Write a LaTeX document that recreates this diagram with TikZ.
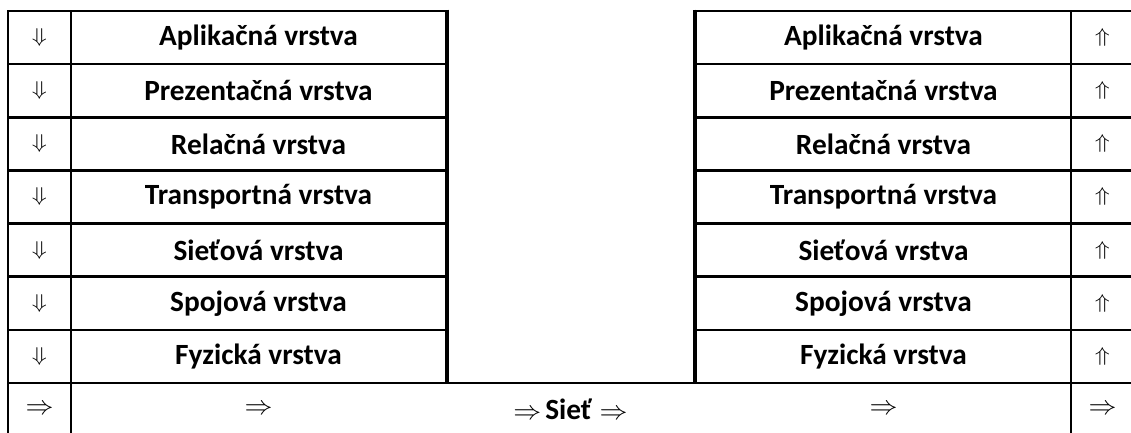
\documentclass[tikz,border=0pt]{standalone}
\usepackage{fontspec}
\usepackage{graphicx}
\setmainfont{Carlito}
\newcommand{\dnar}{{\normalsize\scalebox{1.85}[1.5]{$\Downarrow$}}}
\newcommand{\upar}{{\normalsize\scalebox{1.85}[1.5]{$\Uparrow$}}}
\newcommand{\rtar}{{\normalsize\scalebox{2.1}[2.0]{$\Rightarrow$}}}
\begin{document}
\begin{tikzpicture}[x=0.75pt,y=-0.75pt,
  cell/.style={draw=black,line width=2pt,inner sep=0pt,minimum height=39.85pt,anchor=center},
  lab/.style={font=\fontsize{22}{26}\selectfont\bfseries},
  arr/.style={inner sep=0pt}]
\useasboundingbox (0,0) rectangle (1131,432);
\def\rh{53.14}
\foreach [count=\i from 0] \t in {Aplikačná vrstva,Prezentačná vrstva,Relačná vrstva,Transportná vrstva,Sieťová vrstva,Spojová vrstva,Fyzická vrstva}{
  \pgfmathsetmacro\yc{11+\rh*(\i+0.5)}
  \node[cell,minimum width=47.25pt] (la\i) at (39.5,\yc) {\dnar};
  \node[cell,minimum width=281.25pt,lab] (lt\i) at (258.5,\yc) {\t};
  \node[cell,minimum width=281.25pt,lab] (rt\i) at (883.5,\yc) {\t};
  \node[cell,minimum width=47.25pt] (ra\i) at (1102.5,\yc) {\upar};
}
\pgfmathsetmacro\yb{11+\rh*7.5}
\node[cell,minimum width=47.25pt] (lb) at (39.5,\yb) {\rtar};
\node[cell,minimum width=750pt] (mb) at (571,\yb) {};
\node[cell,minimum width=47.25pt] (rb) at (1102.5,\yb) {\rtar};
\node[arr] (b1) at (258.5,\yb) {\rtar};
\node[arr,lab] (b2) at (570.5,\yb) {\rtar\kern3pt Sieť\kern6pt\rtar};
\node[arr] (b3) at (883.5,\yb) {\rtar};
\draw[line width=2pt] (lt0.north east) -- (lt6.south east);
\draw[line width=2pt] (rt0.north west) -- (rt6.south west);
\end{tikzpicture}
\end{document}
